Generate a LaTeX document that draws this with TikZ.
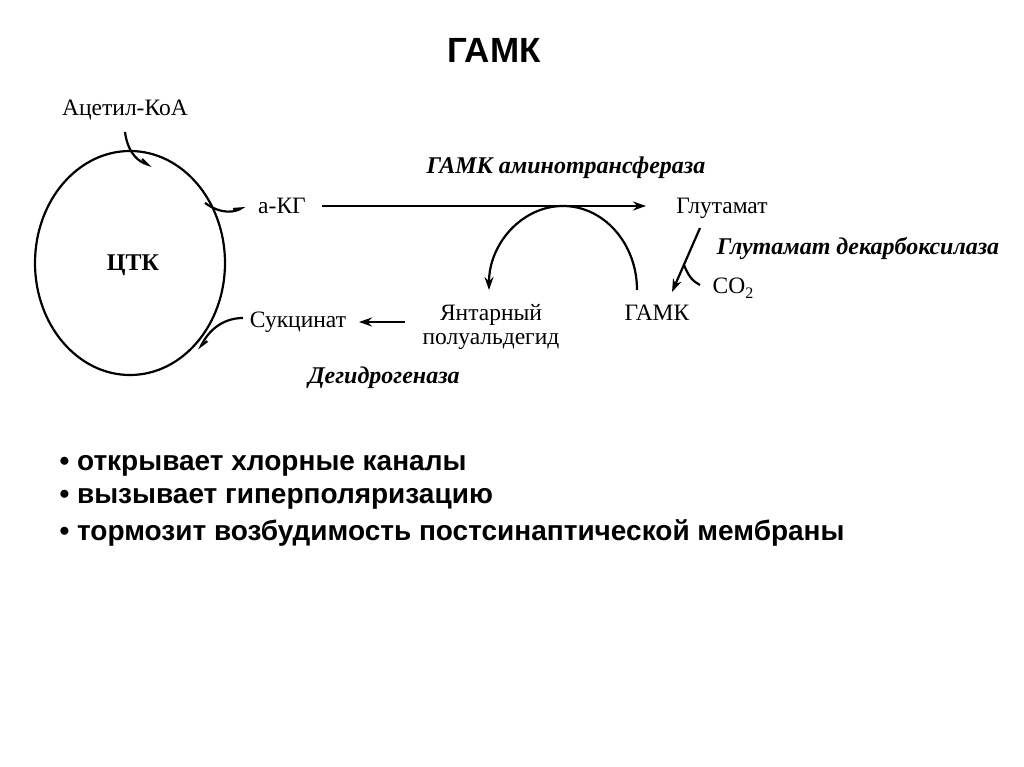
\documentclass[tikz,border=0pt]{standalone}
\usepackage{fontspec}
\setmainfont{Liberation Serif}
\newfontfamily\sansb{Liberation Sans}
\usetikzlibrary{arrows.meta}
\begin{document}
\begin{tikzpicture}[x=1pt,y=-1pt,
  lbl/.style={font=\fontsize{23.5}{26}\selectfont},
  enz/.style={font=\fontsize{24}{26}\selectfont\bfseries\itshape},
  bul/.style={font=\sansb\fontsize{28}{30}\selectfont\bfseries,anchor=west},
  ln/.style={line width=2.2pt},
  arr/.style={ln,-{Stealth[length=13pt,width=9pt]}},
  harr/.style={ln,-{Straight Barb[length=7pt,width=7pt,left]}}]
\useasboundingbox (0,0) rectangle (1024,767);
\node[font=\sansb\fontsize{35}{37}\selectfont\bfseries] (title) at (494,50) {ГАМК};
\draw[ln] (130,263) ellipse (95 and 112);
\node[font=\fontsize{24}{26}\selectfont\bfseries] (ctk) at (133,265) {ЦТК};
\node[lbl] (acoa) at (125,110) {Ацетил-КоА};
\node[lbl] (akg) at (282,206) {а-КГ};
\node[lbl] (glu) at (722,208) {Глутамат};
\node[enz] (gat) at (566,168) {ГАМК аминотрансфераза};
\node[enz] (gdc) at (858,248) {Глутамат декарбоксилаза};
\node[lbl] (co2) at (733,288) {CO\raisebox{-5pt}{\fontsize{16}{18}\selectfont 2}};
\node[lbl] (gaba) at (657,313) {ГАМК};
\node[lbl,align=center] (ssa) at (491,327) {Янтарный\\[-2pt]полуальдегид};
\node[lbl] (succ) at (298,322) {Сукцинат};
\node[enz] (dh) at (384,378) {Дегидрогеназа};
\coordinate (s0) at (405,322);
\coordinate (s1) at (359,322);
\draw[arr] (322,206) -- (646,206);
\draw[arr] (s0) -- (s1);
\draw[arr] (637,290) arc[start angle=0,end angle=-180,x radius=74,y radius=84];
\draw[arr] (700,228) -- (672,292);
\draw[ln] (684,265) .. controls (690,280) and (695,282) .. (700,285);
\draw[harr] (125,132) .. controls (128,155) and (140,162) .. (152,166);
\draw[harr] (205,203) .. controls (222,215) and (235,212) .. (245,206);
\draw[harr] (243,318) .. controls (225,318) and (210,328) .. (199,350);
\node[bul] (b1) at (56,466) {• открывает хлорные каналы};
\node[bul] (b2) at (56,499) {• вызывает гиперполяризацию};
\node[bul] (b3) at (56,533) {• тормозит возбудимость постсинаптической мембраны};
\end{tikzpicture}
\end{document}
